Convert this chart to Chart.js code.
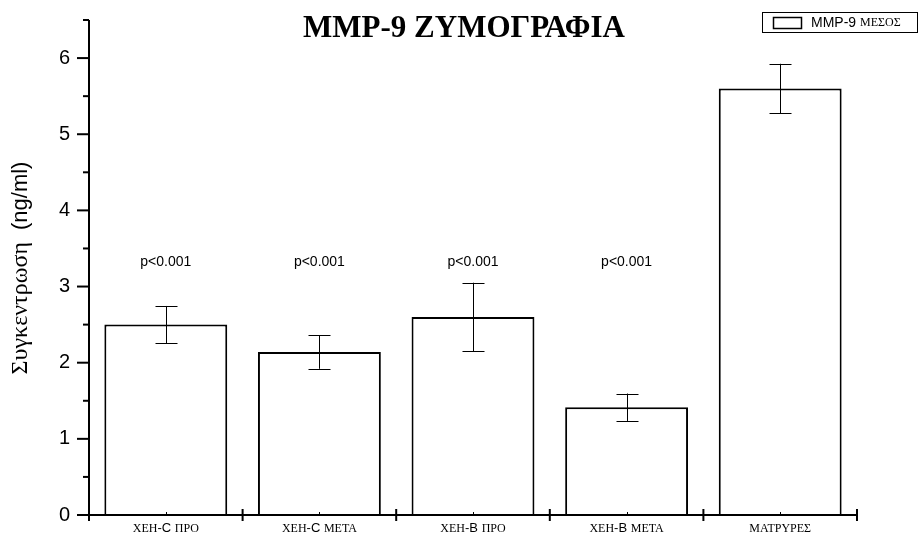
<!DOCTYPE html>
<html>
<head>
<meta charset="utf-8">
<script src="https://cdn.jsdelivr.net/npm/chart.js@4.4.1/dist/chart.umd.min.js"></script>
<style>
  html, body { margin: 0; padding: 0; background: #ffffff; }
  #wrap { width: 919px; height: 541px; position: relative; }
</style>
</head>
<body>
<div id="wrap"><canvas id="chart" width="919" height="541"></canvas></div>
<script>
// Group labels along the x axis
const categories = ['ΧΕΗ-C ΠΡΟ', 'ΧΕΗ-C ΜΕΤΑ', 'ΧΕΗ-B ΠΡΟ', 'ΧΕΗ-B ΜΕΤΑ', 'ΜΑΤΡΥΡΕΣ'];
// Mean MMP-9 concentration (ng/ml) per group
const meanValues = [2.50, 2.14, 2.60, 1.415, 5.60];
// Error half-widths (±) per group
const errorValues = [0.245, 0.22, 0.45, 0.18, 0.325];
// Significance notes printed above the groups
const pLabels = ['p<0.001', 'p<0.001', 'p<0.001', 'p<0.001', ''];
const pLabelLevel = 3.32;
// Value axis tick labels
const yTickLabels = [0, 1, 2, 3, 4, 5, 6];
const yMax = 6.5;

const chartTitle = 'MMP-9 ΖΥΜΟΓΡΑΦΙΑ';
const yAxisTitle = 'Συγκεντρωση  (ng/ml)';
const seriesName = 'MMP-9 ΜΕΣΟΣ';

const SERIF = '"Liberation Serif", "Times New Roman", serif';
const SANS = '"Liberation Sans", Arial, sans-serif';

// Greek letters are set in a serif face, everything else in a sans face
function splitRuns(text) {
  const runs = [];
  let cur = null;
  for (const ch of text) {
    let greek;
    if (ch === ' ') greek = cur ? cur.greek : true;
    else greek = /[\u0370-\u03FF]/.test(ch);
    if (!cur || cur.greek !== greek) { cur = { greek, text: '' }; runs.push(cur); }
    cur.text += ch;
  }
  return runs;
}
function mixedWidth(ctx, text, serifFont, sansFont) {
  let w = 0;
  for (const r of splitRuns(text)) { ctx.font = r.greek ? serifFont : sansFont; w += ctx.measureText(r.text).width; }
  return w;
}
function drawMixed(ctx, text, x, y, serifFont, sansFont, align) {
  const total = mixedWidth(ctx, text, serifFont, sansFont);
  let cx = align === 'center' ? x - total / 2 : (align === 'right' ? x - total : x);
  ctx.textAlign = 'left';
  for (const r of splitRuns(text)) {
    ctx.font = r.greek ? serifFont : sansFont;
    ctx.fillText(r.text, cx, y);
    cx += ctx.measureText(r.text).width;
  }
}

const decorations = {
  id: 'decorations',
  afterDatasetsDraw(chart) {
    const ctx = chart.ctx;
    const xs = chart.scales.x, ys = chart.scales.y;
    const area = chart.chartArea;
    ctx.save();
    ctx.strokeStyle = '#000';
    ctx.fillStyle = '#000';

    // error bars
    ctx.lineWidth = 1;
    meanValues.forEach((v, i) => {
      const x = Math.round(xs.getPixelForValue(i)) + 0.5;
      const yTop = ys.getPixelForValue(v + errorValues[i]);
      const yBot = ys.getPixelForValue(v - errorValues[i]);
      ctx.beginPath();
      ctx.moveTo(x, yTop); ctx.lineTo(x, yBot);
      ctx.moveTo(x - 11, Math.round(yTop) + 0.5); ctx.lineTo(x + 11, Math.round(yTop) + 0.5);
      ctx.moveTo(x - 11, Math.round(yBot) + 0.5); ctx.lineTo(x + 11, Math.round(yBot) + 0.5);
      ctx.stroke();
    });

    // axes lines
    ctx.lineWidth = 2;
    ctx.beginPath();
    ctx.moveTo(area.left, ys.getPixelForValue(yMax));
    ctx.lineTo(area.left, area.bottom);
    ctx.lineTo(area.right, area.bottom);
    ctx.stroke();

    // y ticks: major on integers, minor at halves
    for (let v = 0; v <= yMax + 1e-9; v += 0.5) {
      const y = ys.getPixelForValue(v);
      const major = Math.abs(v - Math.round(v)) < 1e-9;
      ctx.beginPath();
      ctx.moveTo(area.left - (major ? 12 : 6), y);
      ctx.lineTo(area.left, y);
      ctx.stroke();
    }
    // x ticks: major at group boundaries, minor at group centres
    for (let i = 0; i <= categories.length; i++) {
      const x = xs.getPixelForValue(i - 0.5);
      ctx.beginPath();
      ctx.moveTo(x, area.bottom - 6);
      ctx.lineTo(x, area.bottom + 6);
      ctx.stroke();
    }
    ctx.lineWidth = 1;
    categories.forEach((c, i) => {
      const x = Math.round(xs.getPixelForValue(i)) + 0.5;
      ctx.beginPath();
      ctx.moveTo(x, area.bottom - 3);
      ctx.lineTo(x, area.bottom);
      ctx.stroke();
    });

    // x category labels
    ctx.textBaseline = 'alphabetic';
    categories.forEach((c, i) => {
      drawMixed(ctx, c, xs.getPixelForValue(i), 532, '12px ' + SERIF, '13px ' + SANS, 'center');
    });

    // p-value notes
    ctx.font = '14px ' + SANS;
    ctx.textAlign = 'center';
    ctx.textBaseline = 'middle';
    pLabels.forEach((p, i) => {
      if (p) ctx.fillText(p, xs.getPixelForValue(i), ys.getPixelForValue(pLabelLevel));
    });

    // title
    ctx.textBaseline = 'alphabetic';
    ctx.font = 'bold 31px ' + SERIF;
    ctx.textAlign = 'center';
    ctx.fillText(chartTitle, 464, 37);

    // y axis title (rotated)
    ctx.save();
    ctx.translate(27, 268);
    ctx.rotate(-Math.PI / 2);
    drawMixed(ctx, yAxisTitle, 0, 0, '24px ' + SERIF, '22px ' + SANS, 'center');
    ctx.restore();

    // legend
    ctx.lineWidth = 1;
    ctx.strokeRect(762.5, 12.5, 155, 20);
    ctx.lineWidth = 1.5;
    ctx.strokeRect(773.5, 17.5, 28, 11);
    ctx.textBaseline = 'middle';
    drawMixed(ctx, seriesName, 811, 23, '12px ' + SERIF, '14px ' + SANS, 'left');

    ctx.restore();
  }
};

new Chart(document.getElementById('chart'), {
  type: 'bar',
  data: {
    labels: categories,
    datasets: [{
      label: seriesName,
      data: meanValues,
      backgroundColor: '#ffffff',
      borderColor: '#000000',
      borderWidth: 2,
      borderSkipped: 'bottom',
      barPercentage: 0.8,
      categoryPercentage: 1.0
    }]
  },
  options: {
    responsive: false,
    animation: false,
    devicePixelRatio: 1,
    layout: { padding: { left: 0, right: 62, top: 20, bottom: 0 } },
    plugins: {
      legend: { display: false },
      title: { display: false },
      tooltip: { enabled: false }
    },
    scales: {
      x: {
        type: 'category',
        grid: { display: false, drawTicks: false },
        border: { display: false },
        ticks: { display: false },
        afterFit(scale) { scale.height = 26; }
      },
      y: {
        min: 0,
        max: yMax,
        grid: { display: false, drawTicks: true, tickLength: 12 },
        border: { display: false },
        afterBuildTicks(scale) { scale.ticks = yTickLabels.map(v => ({ value: v })); },
        ticks: {
          autoSkip: false,
          padding: 7,
          color: '#000',
          font: { family: SANS, size: 20 },
          callback: (v) => String(v)
        },
        afterFit(scale) { scale.width = 89; }
      }
    }
  },
  plugins: [decorations]
});
</script>
</body>
</html>
